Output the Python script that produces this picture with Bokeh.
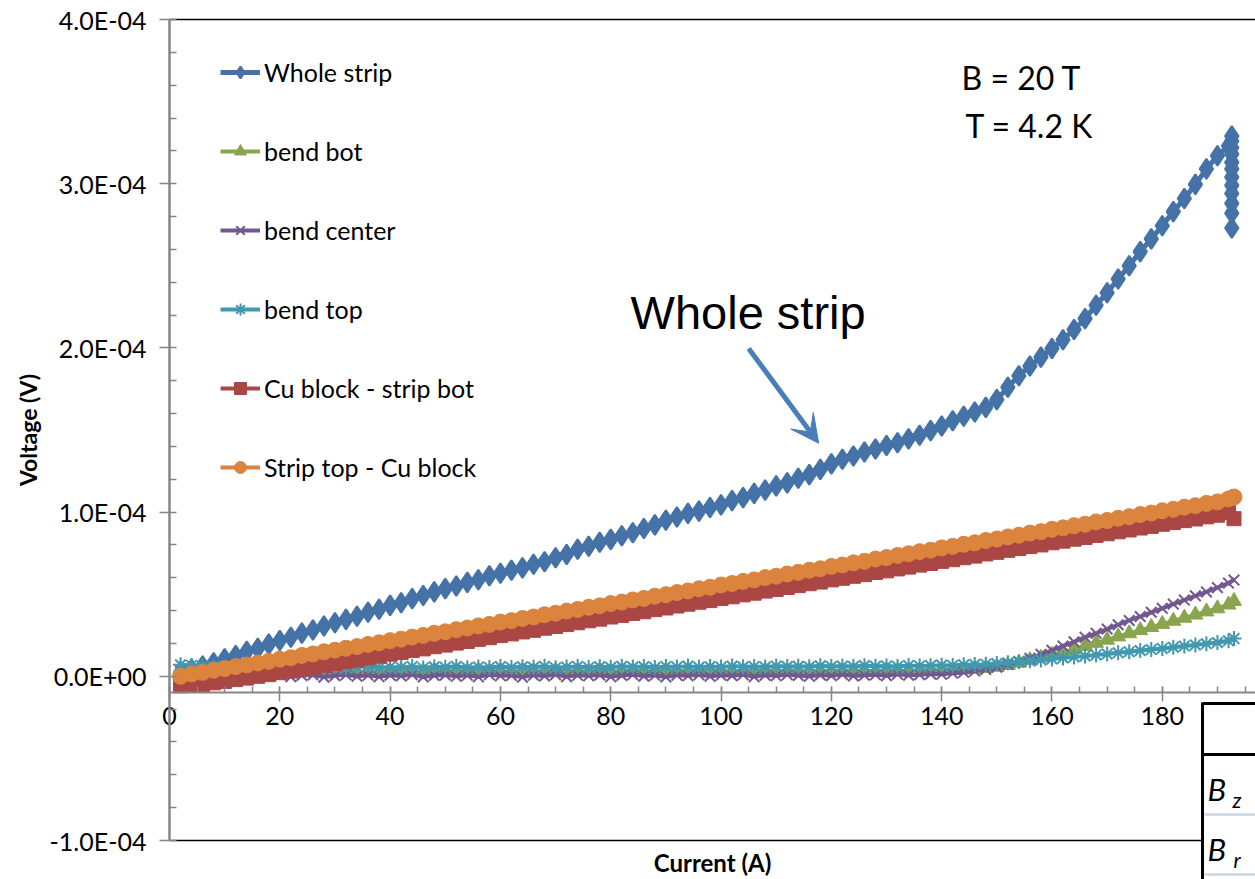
import numpy as np
from bokeh.plotting import figure
from bokeh.models import (Range1d, LinearAxis, FixedTicker, CustomJSTickFormatter,
                          Legend, LegendItem, Label, Arrow, VeeHead, BoxAnnotation)
from bokeh.embed import file_html
from bokeh.resources import INLINE

# ---------------- data (voltage in units of 1e-5 V) ----------------
V_UNIT = 1e-5
current = list(range(2, 193, 2)) + [193]

whole_strip = [
    0.25, 0.42, 0.63, 0.82, 1.06, 1.26, 1.52, 1.70, 1.96, 2.18,
    2.38, 2.63, 2.82, 3.06, 3.26, 3.47, 3.66, 3.90, 4.08, 4.32,
    4.48, 4.73, 4.92, 5.14, 5.34, 5.50, 5.72, 5.88, 6.12, 6.28,
    6.46, 6.60, 6.82, 6.98, 7.22, 7.42, 7.74, 7.92, 8.16, 8.34,
    8.56, 8.74, 9.00, 9.22, 9.50, 9.70, 9.92, 10.06, 10.28, 10.44,
    10.70, 10.88, 11.14, 11.34, 11.60, 11.78, 12.06, 12.28, 12.60, 12.94,
    13.22, 13.42, 13.66, 13.84, 14.06, 14.22, 14.46, 14.68, 14.96, 15.24,
    15.56, 15.84, 16.10, 16.38, 16.85, 17.60, 18.30, 18.90, 19.44, 19.96,
    20.50, 21.12, 21.78, 22.60, 23.36, 24.20, 25.00, 25.86, 26.64, 27.44,
    28.30, 29.10, 29.96, 30.90, 31.70, 32.30]
whole_strip_tail_current = 192.6
whole_strip_tail = [32.9, 32.6, 32.2, 31.8, 31.3, 30.9, 30.4, 29.9, 29.4, 28.8, 28.2, 27.3]

bend_bot = [
    0.45, 0.40, 0.36, 0.31, 0.28, 0.33, 0.25, 0.31, 0.27, 0.34,
    0.26, 0.30, 0.35, 0.27, 0.32, 0.29, 0.24, 0.33, 0.28, 0.31,
    0.36, 0.27, 0.30, 0.34, 0.26, 0.32, 0.29, 0.35, 0.28, 0.31,
    0.25, 0.33, 0.30, 0.27, 0.34, 0.29, 0.32, 0.26, 0.35, 0.30,
    0.28, 0.33, 0.31, 0.27, 0.35, 0.29, 0.32, 0.28, 0.34, 0.31,
    0.27, 0.33, 0.30, 0.35, 0.29, 0.32, 0.28, 0.34, 0.31, 0.33,
    0.29, 0.35, 0.32, 0.30, 0.36, 0.33, 0.31, 0.37, 0.34, 0.36,
    0.38, 0.41, 0.45, 0.50, 0.57, 0.68, 0.82, 0.97, 1.13, 1.30,
    1.47, 1.65, 1.84, 2.03, 2.22, 2.42, 2.61, 2.80, 2.99, 3.18,
    3.37, 3.56, 3.75, 3.94, 4.13, 4.36, 4.58]

bend_center = [
    0.30, 0.20, 0.10, 0.05, 0.02, 0.08, -0.04, 0.06, 0.00, 0.10,
    -0.02, 0.05, 0.08, -0.05, 0.04, 0.09, 0.00, 0.06, -0.03, 0.07,
    0.02, 0.10, -0.04, 0.05, 0.08, 0.00, 0.06, -0.03, 0.09, 0.03,
    0.05, -0.05, 0.07, 0.02, 0.10, -0.02, 0.06, 0.03, 0.08, -0.03,
    0.05, 0.09, 0.01, 0.06, -0.04, 0.07, 0.03, 0.10, 0.00, 0.06,
    0.04, 0.09, -0.02, 0.07, 0.03, 0.10, 0.05, 0.00, 0.08, 0.04,
    0.11, 0.02, 0.07, 0.09, 0.04, 0.12, 0.07, 0.10, 0.14, 0.12,
    0.18, 0.24, 0.32, 0.42, 0.55, 0.72, 0.90, 1.10, 1.34, 1.58,
    1.84, 2.10, 2.38, 2.62, 2.88, 3.14, 3.40, 3.64, 3.90, 4.14,
    4.40, 4.64, 4.90, 5.14, 5.40, 5.68, 5.86]

bend_top = [
    0.70, 0.66, 0.62, 0.58, 0.55, 0.60, 0.52, 0.58, 0.50, 0.56,
    0.60, 0.51, 0.57, 0.53, 0.61, 0.50, 0.56, 0.59, 0.52, 0.57,
    0.54, 0.60, 0.51, 0.58, 0.55, 0.61, 0.52, 0.57, 0.54, 0.59,
    0.53, 0.58, 0.55, 0.61, 0.52, 0.57, 0.60, 0.54, 0.58, 0.55,
    0.61, 0.56, 0.59, 0.53, 0.60, 0.57, 0.62, 0.55, 0.59, 0.57,
    0.62, 0.58, 0.60, 0.56, 0.63, 0.59, 0.61, 0.58, 0.64, 0.60,
    0.62, 0.59, 0.65, 0.61, 0.63, 0.60, 0.66, 0.63, 0.65, 0.68,
    0.66, 0.70, 0.72, 0.74, 0.78, 0.82, 0.88, 0.94, 1.00, 1.06,
    1.12, 1.18, 1.24, 1.30, 1.36, 1.43, 1.50, 1.57, 1.63, 1.70,
    1.77, 1.84, 1.91, 1.98, 2.06, 2.16, 2.30]

cu_block_strip_bot = [
    -0.58, -0.55, -0.50, -0.40, -0.31, -0.20, -0.11, 0.00, 0.10, 0.22,
    0.32, 0.44, 0.55, 0.67, 0.77, 0.89, 0.99, 1.12, 1.22, 1.35,
    1.45, 1.57, 1.67, 1.80, 1.90, 2.02, 2.12, 2.25, 2.35, 2.48,
    2.58, 2.70, 2.80, 2.93, 3.03, 3.15, 3.26, 3.38, 3.48, 3.61,
    3.71, 3.83, 3.93, 4.06, 4.16, 4.28, 4.39, 4.51, 4.61, 4.74,
    4.84, 4.96, 5.06, 5.19, 5.29, 5.41, 5.52, 5.64, 5.74, 5.87,
    5.97, 6.09, 6.19, 6.32, 6.42, 6.54, 6.65, 6.77, 6.87, 7.00,
    7.10, 7.22, 7.32, 7.45, 7.55, 7.67, 7.78, 7.90, 8.00, 8.13,
    8.23, 8.35, 8.45, 8.58, 8.68, 8.80, 8.91, 9.03, 9.13, 9.26,
    9.36, 9.48, 9.58, 9.71, 9.81, 9.98, 9.60]

strip_top_cu_block = [
    0.00, 0.14, 0.24, 0.37, 0.47, 0.59, 0.69, 0.81, 0.91, 1.04,
    1.13, 1.27, 1.36, 1.49, 1.59, 1.71, 1.81, 1.94, 2.04, 2.17,
    2.26, 2.39, 2.49, 2.62, 2.71, 2.84, 2.94, 3.07, 3.16, 3.30,
    3.39, 3.52, 3.61, 3.75, 3.84, 3.97, 4.07, 4.20, 4.29, 4.43,
    4.52, 4.65, 4.74, 4.88, 4.97, 5.10, 5.20, 5.33, 5.42, 5.56,
    5.65, 5.78, 5.87, 6.01, 6.10, 6.23, 6.33, 6.46, 6.55, 6.69,
    6.78, 6.91, 7.00, 7.14, 7.23, 7.36, 7.46, 7.59, 7.68, 7.82,
    7.91, 8.04, 8.13, 8.27, 8.36, 8.49, 8.59, 8.72, 8.81, 8.95,
    9.04, 9.17, 9.26, 9.40, 9.49, 9.62, 9.72, 9.85, 9.94, 10.08,
    10.17, 10.30, 10.39, 10.53, 10.62, 10.80, 10.92]

series_names = ["Whole strip", "bend bot", "bend center", "bend top",
                "Cu block - strip bot", "Strip top - Cu block"]
x_ticks = [0, 20, 40, 60, 80, 100, 120, 140, 160, 180]
y_ticks = [-1e-4, 0.0, 1e-4, 2e-4, 3e-4, 4e-4]
X_AXIS_AT = -1e-5
Y_MIN, Y_MAX = -1e-4, 4e-4
X_MAX = 196.9

# ---------------- figure ----------------
# The frame covers the whole canvas; axes are placed at fixed data locations.
W, H = 1255, 879
FRAME_LEFT_PX, FRAME_TOP_PX, FRAME_BOTTOM_PX = 169, 19, 840
px_per_x = (W - FRAME_LEFT_PX) / X_MAX
px_per_y = (FRAME_BOTTOM_PX - FRAME_TOP_PX) / (Y_MAX - Y_MIN)
x_lo = -FRAME_LEFT_PX / px_per_x
y_hi = Y_MAX + FRAME_TOP_PX / px_per_y
y_lo = Y_MIN - (H - FRAME_BOTTOM_PX) / px_per_y

FONT = "Lato"
p = figure(width=W, height=H, output_backend="svg", toolbar_location=None,
           x_range=Range1d(x_lo, X_MAX), y_range=Range1d(y_lo, y_hi),
           x_axis_location=None, y_axis_location=None, min_border=0)
p.outline_line_color = None
p.grid.visible = False
p.background_fill_color = "white"
p.border_fill_color = "white"

AX_GRAY = "#868686"

def style_ticks(ax):
    ax.axis_line_color = AX_GRAY
    ax.major_tick_line_color = AX_GRAY
    ax.minor_tick_line_color = AX_GRAY
    ax.major_tick_line_width = 1.5
    ax.minor_tick_line_width = 1.5
    ax.major_label_text_font = FONT
    ax.major_label_text_font_size = "25px"
    ax.major_label_text_color = "black"

# y axis at x = 0
yax = LinearAxis(ticker=FixedTicker(ticks=y_ticks,
                                    minor_ticks=[i * 2e-5 for i in range(-5, 21)]),
                 formatter=CustomJSTickFormatter(code="""
                    const s = tick.toExponential(1);
                    const parts = s.split('e');
                    const sign = parts[1][0];
                    let d = parts[1].slice(1);
                    if (d.length < 2) { d = '0' + d; }
                    return parts[0] + 'E' + sign + d;
                 """),
                 fixed_location=0, bounds=(Y_MIN, Y_MAX))
style_ticks(yax)
yax.axis_line_width = 2.5
yax.major_tick_out = 10
yax.major_tick_in = 0
yax.minor_tick_out = 0
yax.minor_tick_in = 7
yax.major_label_standoff = 13
p.add_layout(yax, "left")

# x axis crossing at -1e-5
xax = LinearAxis(ticker=FixedTicker(ticks=x_ticks, minor_ticks=list(range(0, 200, 5))),
                 fixed_location=X_AXIS_AT, bounds=(0, X_MAX))
style_ticks(xax)
xax.axis_line_width = 2
xax.major_tick_in = 6
xax.major_tick_out = 9
xax.minor_tick_in = 6
xax.minor_tick_out = 0
xax.major_label_standoff = 5
p.add_layout(xax, "below")

def frame_line(loc, side, bounds):
    ax = LinearAxis(ticker=FixedTicker(ticks=[]), fixed_location=loc, bounds=bounds)
    ax.axis_line_color = "black"
    ax.axis_line_width = 1.5
    ax.major_tick_in = ax.major_tick_out = 0
    ax.minor_tick_in = ax.minor_tick_out = 0
    ax.major_label_text_font_size = "0px"
    p.add_layout(ax, side)

frame_line(Y_MAX, "above", (0, X_MAX))
frame_line(Y_MIN, "below", (0, 187.4))

# axis titles
p.add_layout(Label(x=x_lo + 27 / px_per_x, y=(Y_MIN + Y_MAX) / 2,
                   text="Voltage (V)", angle=np.pi / 2, text_align="center",
                   text_baseline="middle", text_font=FONT, text_font_style="bold",
                   text_font_size="23px", text_color="black"))
p.add_layout(Label(x=X_MAX / 2, y=Y_MIN, y_offset=-22, text="Current (A)",
                   text_align="center", text_baseline="middle", text_font=FONT,
                   text_font_style="bold", text_font_size="24px", text_color="black"))

# ---------------- series ----------------
colors = ["#4572A7", "#89A54E", "#71588F", "#4198AF", "#AA4643", "#DB843D"]
ws_x = current[:-1] + [whole_strip_tail_current] * len(whole_strip_tail)
ws_y = [v * V_UNIT for v in whole_strip + whole_strip_tail]
data = [
    (ws_x, ws_y),
    (current, [v * V_UNIT for v in bend_bot]),
    (current, [v * V_UNIT for v in bend_center]),
    (current, [v * V_UNIT for v in bend_top]),
    (current, [v * V_UNIT for v in cu_block_strip_bot]),
    (current, [v * V_UNIT for v in strip_top_cu_block]),
]
marker_specs = [
    dict(marker="diamond", size=20, line_width=2),
    dict(marker="triangle", size=15),
    dict(marker="x", size=15, line_width=2),
    dict(marker="asterisk", size=15, line_width=2),
    dict(marker="square", size=14),
    dict(marker="circle", size=16),
]
line_widths = [5, 4, 4, 4, 4, 4]
items = []
for (xs, ys), c, spec, lwid, name in zip(data, colors, marker_specs, line_widths, series_names):
    lr = p.line(xs, ys, line_color=c, line_width=lwid)
    sp = dict(spec)
    lw = sp.pop("line_width", 1)
    sr = p.scatter(xs, ys, fill_color=c, line_color=c, line_width=lw, **sp)
    items.append(LegendItem(label=name, renderers=[lr, sr]))

# legend: rows 79 px apart, top-left corner near (220, 57) px
legend = Legend(items=items, location=(220, H - 482), padding=0, margin=0,
                spacing=49, glyph_width=40, glyph_height=30, label_height=30,
                label_standoff=4, border_line_color=None, background_fill_alpha=0,
                label_text_font=FONT, label_text_font_size="25px",
                label_text_color="black", label_text_baseline="middle")
p.add_layout(legend, "center")

# ---------------- annotations ----------------
p.add_layout(Label(x=143.6, y=3.647e-4, text="B = 20 T", text_font=FONT,
                   text_font_size="32px", text_baseline="middle", text_color="black"))
p.add_layout(Label(x=144.3, y=3.355e-4, text="T = 4.2 K", text_font=FONT,
                   text_font_size="32px", text_baseline="middle", text_color="black"))
p.add_layout(Label(x=83.6, y=2.216e-4, text="Whole strip", text_font="Liberation Sans",
                   text_font_size="47px", text_baseline="middle", text_color="black"))
p.add_layout(Arrow(x_start=105.0, y_start=1.997e-4, x_end=117.7, y_end=1.419e-4,
                   line_color="#4A7EBB", line_width=5,
                   end=VeeHead(size=28, fill_color="#4A7EBB", line_color="#4A7EBB")))

# partial table at bottom right (canvas pixels, y measured from the top)
p.add_layout(BoxAnnotation(left=1203, right=1256, top=703, bottom=880,
                           left_units="canvas", right_units="canvas",
                           top_units="canvas", bottom_units="canvas",
                           fill_color="white", fill_alpha=1, line_color=None,
                           level="overlay"))
for (x0, y0, x1, y1, col, w) in [
    (1202, 702, 1202, 879, "black", 3),
    (1202, 703, 1255, 703, "black", 3),
    (1202, 754, 1255, 754, "black", 3),
    (1204, 814, 1255, 814, "#C9D3E3", 2.5),
    (1204, 874, 1255, 874, "#C9D3E3", 2.5),
]:
    p.add_layout(Arrow(x_start=x0, y_start=y0, x_end=x1, y_end=y1,
                       start_units="canvas", end_units="canvas", end=None,
                       line_color=col, line_width=w, level="overlay"))
for (tx, ty, t, fs) in [(1207, 788, "B", "31px"), (1232, 799, "z", "21px"),
                        (1207, 848, "B", "31px"), (1233, 859, "r", "21px")]:
    p.add_layout(Label(x=tx, y=ty, x_units="canvas", y_units="canvas", text=t,
                       text_font=FONT, text_font_style="italic", text_font_size=fs,
                       text_baseline="middle", text_color="black", level="overlay"))

open("out.html", "w").write(file_html(p, INLINE))
